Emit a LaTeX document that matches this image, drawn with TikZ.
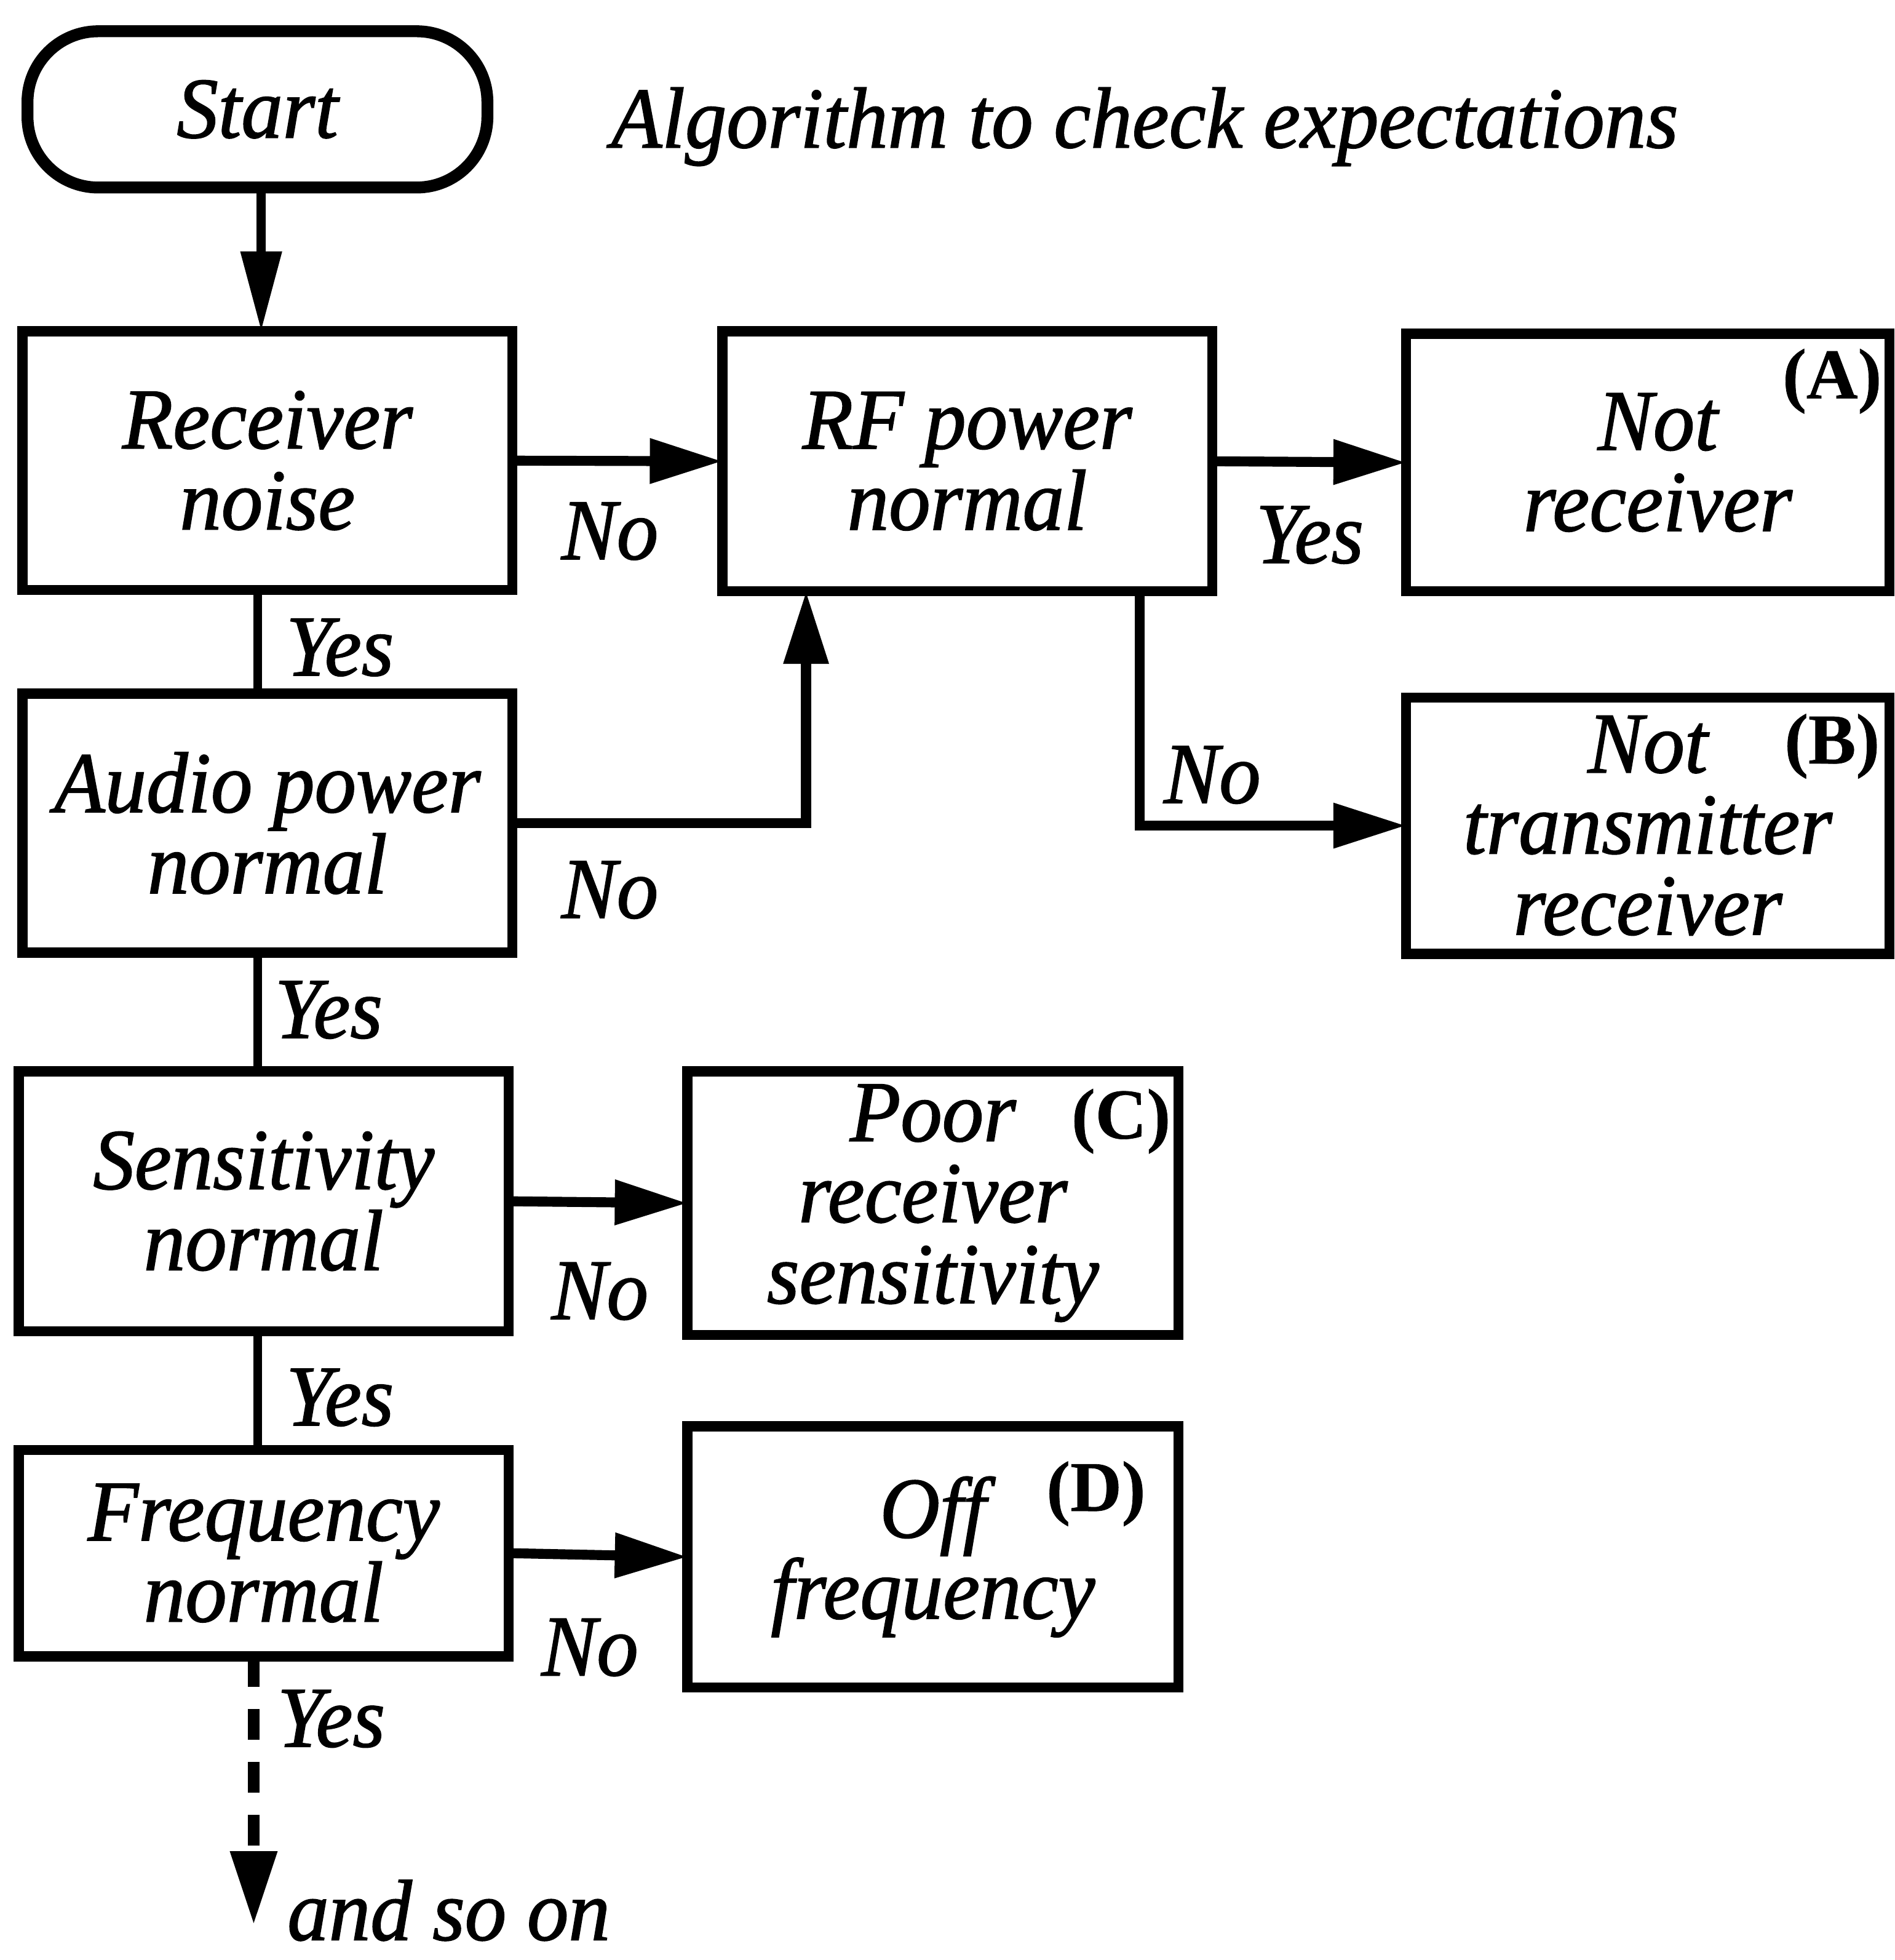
\documentclass[tikz,border=0pt]{standalone}
\usepackage{fontspec}
\setmainfont{Liberation Serif}[ItalicFeatures={FakeBold=1.3,FakeStretch=0.96},BoldFeatures={FakeBold=0.6}]
\usetikzlibrary{arrows.meta,calc}
\newdimen\pxu \pxu=0.02032cm
\newcommand\bigit{\fontsize{40}{37.5}\selectfont\itshape}
\newcommand\tagfont{\fontsize{33}{33}\selectfont\bfseries}
\begin{document}
\begin{tikzpicture}[x=0.02032cm,y=-0.02032cm,
  tx/.style={font=\bigit,inner sep=0pt,outer sep=0pt},
  box/.style={draw,line width=4.7pt,inner sep=0pt,outer sep=0pt,align=center,font=\bigit},
  tag/.style={font=\tagfont,inner sep=0pt},
  conn/.style={line width=4.6pt,-{Triangle[length=1.18cm,width=0.70cm]}},
  vline/.style={line width=4pt}]
\useasboundingbox (0,0) rectangle (1516,1568);
% nodes
\node[box,rounded corners=1.15cm,line width=5.5pt,minimum width=368\pxu,minimum height=125\pxu] (start) at (206,87.5) {Start};
\node[tx,anchor=base] (title) at (916,118) {Algorithm to check expectations};
\node[box,minimum width=392\pxu,minimum height=207\pxu] (rec) at (214,368.5) {Receiver\\noise};
\node[box,minimum width=392\pxu,minimum height=208\pxu] (rf) at (774,369) {RF power\\normal};
\node[box,minimum width=387\pxu,minimum height=206\pxu] (nr) at (1318.5,370) {\hspace*{16\pxu}Not\\\hspace*{16\pxu}receiver};
\node[box,minimum width=392\pxu,minimum height=207\pxu] (aud) at (214,658.5) {Audio power\\normal};
\node[box,minimum width=387\pxu,minimum height=205\pxu] (nt) at (1318.5,660.5) {Not\\transmitter\\receiver};
\node[box,minimum width=392\pxu,minimum height=208\pxu] (sens) at (211,961) {Sensitivity\\normal};
\node[box,minimum width=393\pxu,minimum height=211\pxu] (poor) at (746.5,962.5) {Poor\\receiver\\sensitivity};
\node[box,minimum width=392\pxu,minimum height=165\pxu] (freq) at (211,1242.5) {Frequency\\normal};
\node[box,minimum width=393\pxu,minimum height=209\pxu] (off) at (746.5,1245.5) {Off\\frequency};
% tags
\node[tag] (tA) at (1466,305) {(A)};
\node[tag] (tB) at (1466,597) {(B)};
\node[tag] (tC) at (897,897) {(C)};
\node[tag] (tD) at (877,1195) {(D)};
% helper coordinates
\coordinate (vx) at (206,0);
\coordinate (ax) at (645,0);
\coordinate (bx) at (912,0);
\coordinate (endd) at (203,1540);
% connectors
\draw[line width=4.2pt,-{Triangle[length=1.3cm,width=0.64cm]}] (start.south -| 209,0) -- (rec.north -| 209,0);
\draw[conn] (rec.east) -- (rf.west);
\draw[conn] (rf.east) -- (nr.west);
\draw[vline] (rec.south -| vx) -- (aud.north -| vx);
\draw[vline] (aud.south -| vx) -- (sens.north -| vx);
\draw[vline] (sens.south -| vx) -- (freq.north -| vx);
\draw[conn,line join=miter] (aud.east) -- (aud.east -| ax) -- (rf.south -| ax);
\draw[conn,line join=miter] (rf.south -| bx) |- (nt.west);
\draw[conn] (sens.east) -- (poor.west);
\draw[conn] (freq.east) -- (off.west);
\draw[line width=5.5pt,dash pattern=on 0.5cm off 0.36cm,-{Triangle[length=1.2cm,width=0.72cm]}] (freq.south -| endd) -- (endd);
% labels
\node[tx] (l1) at (488,425) {No};
\node[tx] (l2) at (488,712) {No};
\node[tx] (l3) at (1048,428) {Yes};
\node[tx] (l4) at (970,620) {No};
\node[tx] (l5) at (272,518) {Yes};
\node[tx] (l6) at (263,808) {Yes};
\node[tx] (l7) at (480,1033) {No};
\node[tx] (l8) at (272,1118) {Yes};
\node[tx] (l9) at (472,1318) {No};
\node[tx] (l10) at (265,1375) {Yes};
\node[tx,anchor=base west] (more) at (230,1552) {and so on};
\end{tikzpicture}
\end{document}
